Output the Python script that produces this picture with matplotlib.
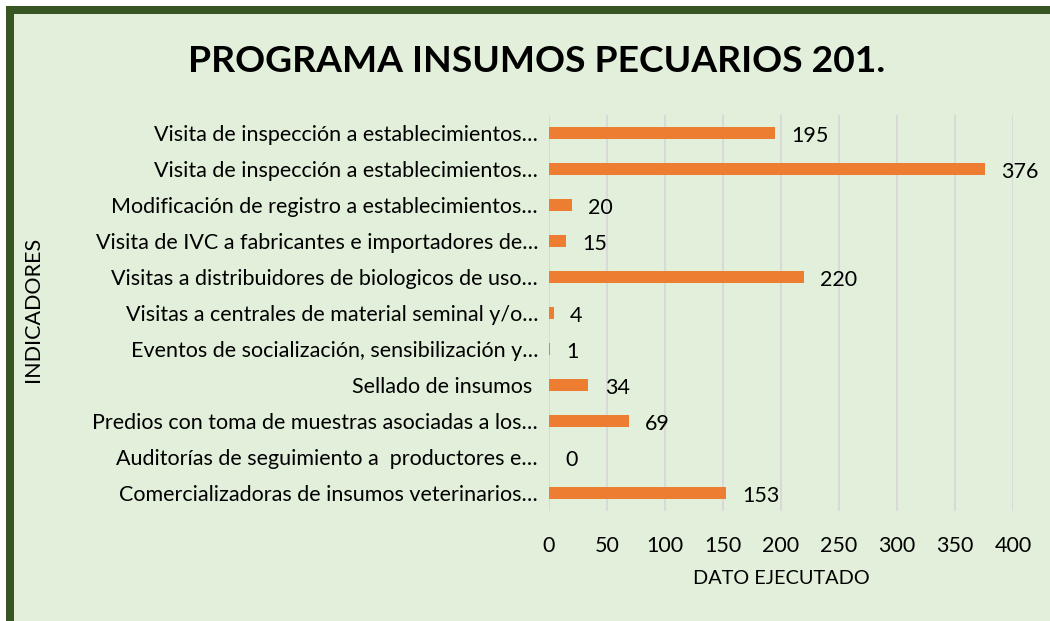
import matplotlib.pyplot as plt
from matplotlib.patches import Rectangle


TITLE = "PROGRAMA INSUMOS PECUARIOS 201."

indicadores = [
    "Visita de inspección a establecimientos…",
    "Visita de inspección a establecimientos…",
    "Modificación de registro a establecimientos…",
    "Visita de IVC a fabricantes e importadores de…",
    "Visitas a distribuidores de biologicos de uso…",
    "Visitas a centrales de material seminal y/o…",
    "Eventos de socialización, sensibilización y…",
    "Sellado de insumos ",
    "Predios con toma de muestras asociadas a los…",
    "Auditorías de seguimiento a  productores e…",
    "Comercializadoras de insumos veterinarios…",
]
dato_ejecutado = [195, 376, 20, 15, 220, 4, 1, 34, 69, 0, 153]
x_ticks = [0, 50, 100, 150, 200, 250, 300, 350, 400]

BG = "#E2EFDA"
BORDER = "#375623"
BAR = "#ED7D31"
FONT = "Lato"


def main():
    plt.rcParams["font.family"] = [FONT, "DejaVu Sans"]
    W, H = 1050, 621
    fig = plt.figure(figsize=(W / 100, H / 100), dpi=100, facecolor="white")

    # frame: dark green border on left/top, light green fill
    fig.patches.append(Rectangle((6 / W, -0.1), 2, (H - 6) / H + 0.1,
                                 transform=fig.transFigure, facecolor=BORDER,
                                 edgecolor="none", zorder=-2))
    fig.patches.append(Rectangle((14 / W, -0.1), 2, (H - 14) / H + 0.1,
                                 transform=fig.transFigure, facecolor=BG,
                                 edgecolor="none", zorder=-1))

    left, right = 549 / W, 1013 / W
    top, bottom = 1 - 115 / H, 1 - 511 / H
    ax = fig.add_axes([left, bottom, right - left, top - bottom])
    ax.set_facecolor("none")

    pos = list(range(len(indicadores)))
    ax.barh(pos, dato_ejecutado, height=0.36, color=BAR, zorder=3)
    for p, v in zip(pos, dato_ejecutado):
        ax.text(v + 14, p + 0.08, str(v), va="center", ha="left",
                fontsize=15.5, color="black")

    ax.set_ylim(len(indicadores) - 0.5, -0.5)
    ax.set_xlim(0, 400)
    ax.set_yticks(pos)
    ax.set_yticklabels(indicadores, fontsize=15.5)
    ax.set_xticks(x_ticks)
    ax.set_xticklabels([str(t) for t in x_ticks], fontsize=15.5)
    ax.tick_params(axis="y", length=0, pad=8)
    ax.tick_params(axis="x", length=0, pad=18)
    ax.grid(axis="x", color="#D9D9D9", linewidth=1.5, zorder=0)
    for s in ax.spines.values():
        s.set_visible(False)

    ax.set_xlabel("DATO EJECUTADO", fontsize=14.3, labelpad=10)
    fig.text(33 / W, 1 - 309 / H, "INDICADORES", rotation=90,
             ha="center", va="center", fontsize=15.5)
    fig.text(537 / W, 1 - 61 / H, TITLE, ha="center", va="center",
             fontsize=26.8, fontweight="bold")

    fig.savefig("out.png", dpi=100, facecolor="white")
    plt.close(fig)


if __name__ == "__main__":
    main()
